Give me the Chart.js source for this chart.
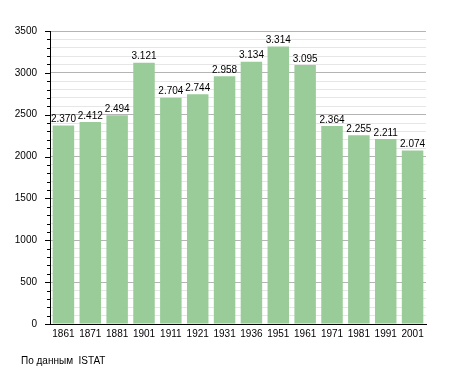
<!DOCTYPE html>
<html>
<head>
<meta charset="utf-8">
<script src="https://cdn.jsdelivr.net/npm/chart.js@4/dist/chart.umd.min.js"></script>
<style>
  body { margin: 0; background: #fff; }
  #wrap { position: relative; width: 455px; height: 373px; }
  #source { position: absolute; left: 21px; top: 355px; font: 10px "Liberation Sans", Arial, sans-serif; color: #000; }
</style>
</head>
<body>
<div id="wrap">
  <canvas id="myChart" width="455" height="373"></canvas>
  <div id="source">По данным&nbsp; ISTAT</div>
</div>
<script>
const years = ["1861","1871","1881","1901","1911","1921","1931","1936","1951","1961","1971","1981","1991","2001"];
const population = [2370, 2412, 2494, 3121, 2704, 2744, 2958, 3134, 3314, 3095, 2364, 2255, 2211, 2074];

const FONT = "'Liberation Sans', Arial, sans-serif";

function formatNum(v){
  // 2370 -> 2.370
  return String(v).replace(/\B(?=(\d{3})+(?!\d))/g, '.');
}

// values above the bars
const valueLabels = {
  id: 'valueLabels',
  afterDatasetsDraw(chart){
    const ctx = chart.ctx;
    const meta = chart.getDatasetMeta(0);
    ctx.save();
    ctx.font = '10px ' + FONT;
    ctx.fillStyle = '#000';
    ctx.textAlign = 'center';
    ctx.textBaseline = 'bottom';
    meta.data.forEach((bar, i) => {
      ctx.fillText(formatNum(population[i]), bar.x, bar.y - 1);
    });
    ctx.restore();
  }
};

// major / minor tick marks on the y axis
const yTickMarks = {
  id: 'yTickMarks',
  afterDraw(chart){
    const ctx = chart.ctx;
    const y = chart.scales.y;
    const left = chart.chartArea.left;
    ctx.save();
    ctx.strokeStyle = '#000';
    ctx.lineWidth = 1;
    y.ticks.forEach(t => {
      const py = Math.round(y.getPixelForValue(t.value)) + 0.5;
      const len = t.value % 500 === 0 ? 5 : 3;
      ctx.beginPath();
      ctx.moveTo(left - len, py);
      ctx.lineTo(left, py);
      ctx.stroke();
    });
    ctx.restore();
  }
};

const ctx = document.getElementById('myChart').getContext('2d');
const myChart = new Chart(ctx, {
  type: 'bar',
  data: {
    labels: years,
    datasets: [{
      data: population,
      backgroundColor: '#99cc99',
      borderWidth: 0,
      barPercentage: 0.8,
      categoryPercentage: 1
    }]
  },
  options: {
    responsive: false,
    animation: false,
    layout: { padding: { top: 31, right: 29, left: 0, bottom: 0 } },
    plugins: {
      legend: { display: false },
      tooltip: { enabled: false }
    },
    scales: {
      x: {
        grid: { display: false, drawTicks: false },
        border: { color: '#000', width: 1 },
        ticks: { color: '#000', font: { size: 10, family: FONT }, padding: 4, maxRotation: 0, autoSkip: false },
        afterFit(scale){ scale.height = 49; }
      },
      y: {
        min: 0,
        max: 3500,
        grid: {
          drawTicks: false,
          color: c => (c.tick && c.tick.value % 500 === 0) ? '#b4b4b4' : '#e6e6e6'
        },
        border: { color: '#000', width: 1 },
        ticks: {
          stepSize: 100,
          autoSkip: false,
          color: '#000',
          font: { size: 10, family: FONT },
          padding: 13,
          callback: v => v % 500 === 0 ? v : ''
        },
        afterFit(scale){ scale.width = 50; }
      }
    }
  },
  plugins: [valueLabels, yTickMarks]
});
</script>
</body>
</html>
